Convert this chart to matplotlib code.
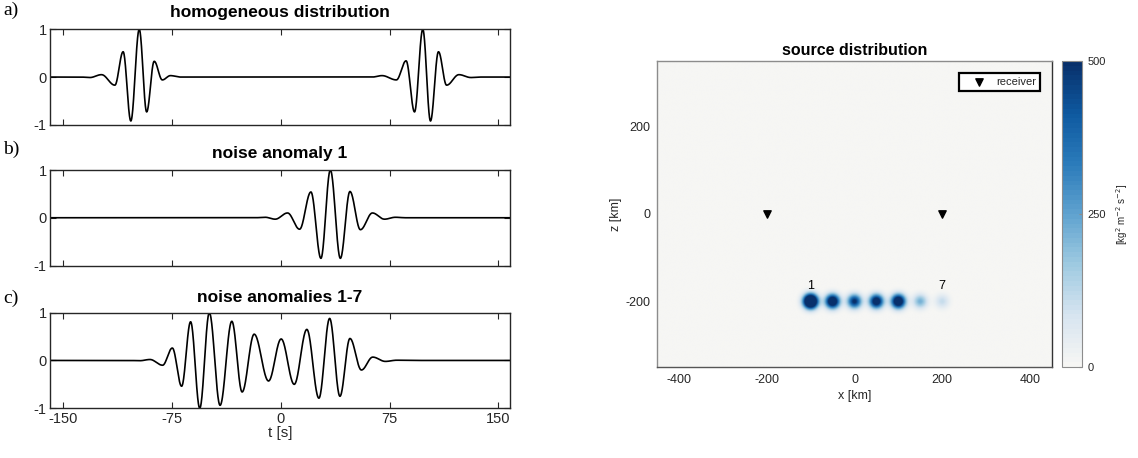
import numpy as np
import matplotlib
matplotlib.use('Agg')
import matplotlib.pyplot as plt
from matplotlib.colors import LinearSegmentedColormap

plt.rcParams['font.family'] = ['Liberation Sans', 'DejaVu Sans']
plt.rcParams['axes.unicode_minus'] = False

# ---- waveform extrema (time [s], normalised amplitude)
t_hom = [-159, -138, -131.5, -123.5, -114.3, -108.6, -103.3, -97.5, -92.4, -87.2,
         -81.6, -76.0, -69.0, 63.0, 69.8, 79.7, 86.4, 92.2, 97.9, 103.2, 108.7,
         114.3, 122.8, 131.0, 138.0, 159]
a_hom = [0, 0, -0.01, 0.05, -0.17, 0.53, -0.92, 1.0, -0.73, 0.33,
         -0.06, 0.03, 0, 0, 0.03, -0.06, 0.34, -0.73, 1.0, -0.92, 0.53,
         -0.17, 0.05, -0.01, 0, 0]

t_one = [-159, -18, -10.7, -3.8, 4.7, 13.0, 20.8, 27.7, 34.2, 41.1, 47.7, 54.9,
         63.2, 71.5, 79.0, 86.0, 159]
a_one = [0, 0, 0.01, -0.03, 0.10, -0.24, 0.54, -0.85, 1.0, -0.85, 0.55, -0.25,
         0.10, -0.03, 0.01, 0, 0]

t_all = [-159, -105, -97.0, -90.1, -81.4, -74.7, -68.3, -62.1, -55.8, -49.2, -41.8,
         -33.7, -26.6, -18.3, -8.4, 0.3, 9.3, 18.0, 26.3, 33.7, 40.8, 47.7, 55.6,
         63.4, 72.1, 80.0, 88.0, 159]
a_all = [0, 0, -0.005, 0.02, -0.10, 0.26, -0.54, 0.81, -1.0, 1.0, -0.94,
         0.82, -0.66, 0.55, -0.43, 0.45, -0.50, 0.65, -0.79, 0.88, -0.75, 0.46, -0.20,
         0.07, -0.02, 0.005, 0, 0]

panel_titles = ['homogeneous distribution', 'noise anomaly 1', 'noise anomalies 1-7']
panel_letters = ['a)', 'b)', 'c)']
t_ticks = [-150, -75, 0, 75, 150]

# ---- source distribution (positions in km, strengths)
src_x = [-100, -50, 0, 50, 100, 150, 200]
src_z = [-200, -200, -200, -200, -200, -200, -200]
src_amp = [1065, 724, 514, 635, 724, 220, 110]
src_width = 11.0
rec_x = [-200, 200]
rec_z = [0, 0]
cbar_ticks = [0, 250, 500]


def smooth_line(tp, yp, n=40):
    # smooth (half-cosine) line drawn through the read-off extrema
    ts, ys = [], []
    for i in range(len(tp) - 1):
        s = np.linspace(0, 1, n, endpoint=False)
        w = (1 - np.cos(np.pi * s)) / 2
        ts.append(tp[i] + (tp[i + 1] - tp[i]) * s)
        ys.append(yp[i] + (yp[i + 1] - yp[i]) * w)
    ts.append([tp[-1]])
    ys.append([yp[-1]])
    return np.concatenate(ts), np.concatenate(ys)


W, H = 1138, 458
fig = plt.figure(figsize=(W / 100, H / 100), dpi=100)

tick_col = '#262626'
left_tops = [29.3, 170, 312.7]
traces = [(t_hom, a_hom), (t_one, a_one), (t_all, a_all)]
letter_y = [10, 149.5, 298]
title_pads = [8.5, 8.5, 7.5]

for i in range(3):
    top = left_tops[i]
    ax = fig.add_axes([50 / W, 1 - (top + 95.5) / H, 460 / W, 95.5 / H])
    t, y = smooth_line(*traces[i])
    ax.plot(t, y, color='k', lw=1.2)
    ax.set_xlim(-159, 158)
    ax.set_ylim(-1, 1)
    ax.set_yticks([-1, 0, 1])
    ax.set_xticks(t_ticks)
    ax.tick_params(direction='in', top=True, right=True, length=4, width=0.8,
                   labelsize=10.5, colors=tick_col, pad=2.5)
    for sp in ax.spines.values():
        sp.set_color('#262626')
        sp.set_linewidth(1.0)
    if i < 2:
        ax.set_xticklabels([])
    else:
        ax.set_xlabel('t [s]', fontsize=11, color=tick_col)
        ax.xaxis.set_label_coords(0.5, -0.19)
    ax.set_title(panel_titles[i], fontsize=12.5, fontweight='bold', pad=title_pads[i])
    fig.text(3 / W, 1 - letter_y[i] / H, panel_letters[i], fontsize=14,
             family=['Liberation Serif', 'DejaVu Serif'], va='center', ha='left')

# ---- right panel
cmap = LinearSegmentedColormap.from_list(
    'src', ['#f6f6f4', '#d6e4f0', '#9ecae1', '#5fa2cf', '#2b7bba', '#0e59a0', '#08306b'], N=64)

xg = np.linspace(-450, 450, 901)
zg = np.linspace(-350, 350, 701)
X, Z = np.meshgrid(xg, zg)
field = np.zeros_like(X)
for sx, sz, sa in zip(src_x, src_z, src_amp):
    field += sa * np.exp(-((X - sx) ** 2 + (Z - sz) ** 2) / (2 * src_width ** 2))

axr = fig.add_axes([657 / W, 1 - 367 / H, 395 / W, 306 / H])
im = axr.imshow(field, extent=[-450, 450, -350, 350], origin='lower', cmap=cmap,
                vmin=0, vmax=500, aspect='auto', interpolation='bilinear')
axr.scatter(rec_x, rec_z, marker='v', color='k', s=28, label='receiver', zorder=3)
axr.text(src_x[0], -165, '1', ha='center', va='center', fontsize=9)
axr.text(src_x[-1], -165, '7', ha='center', va='center', fontsize=9)
axr.set_xlim(-450, 450)
axr.set_ylim(-350, 350)
axr.set_xticks([-400, -200, 0, 200, 400])
axr.set_yticks([-200, 0, 200])
axr.tick_params(length=0, labelsize=9, colors=tick_col, pad=5)
axr.set_xlabel('x [km]', fontsize=9, color=tick_col)
axr.set_ylabel('z [km]', fontsize=9, color=tick_col)
axr.xaxis.set_label_coords(0.5, -0.075)
axr.yaxis.set_label_coords(-0.088, 0.5)
axr.set_title('source distribution', fontsize=11.5, fontweight='bold', pad=4)
axr.spines['left'].set_color('#8c8c8c')
axr.spines['top'].set_color('#8c8c8c')
axr.spines['right'].set_color('#333333')
axr.spines['bottom'].set_color('#555555')
for sp in axr.spines.values():
    sp.set_linewidth(1.0)

leg = axr.legend(loc='upper right', bbox_to_anchor=(1 - 12 / 395, 1 - 12 / 306),
                 borderaxespad=0, fontsize=8, fancybox=False, framealpha=1,
                 handletextpad=0.0, borderpad=0.35, handlelength=3.0, scatterpoints=1)
leg.get_frame().set_edgecolor('k')
leg.get_frame().set_linewidth(1.6)
for txt in leg.get_texts():
    txt.set_color(tick_col)

cax = fig.add_axes([1062 / W, 1 - 367 / H, 20 / W, 306 / H])
cb = fig.colorbar(im, cax=cax, ticks=cbar_ticks)
cb.outline.set_edgecolor('#8c8c8c')
cb.outline.set_linewidth(0.8)
cax.tick_params(direction='in', length=2, width=0.8, color='#8c8c8c',
                labelsize=8, labelcolor=tick_col, pad=4)
cb.set_label(r'[kg$^2$ m$^{-2}$ s$^{-2}$]', fontsize=7, color=tick_col, labelpad=6)

fig.savefig('out.png', dpi=100)
